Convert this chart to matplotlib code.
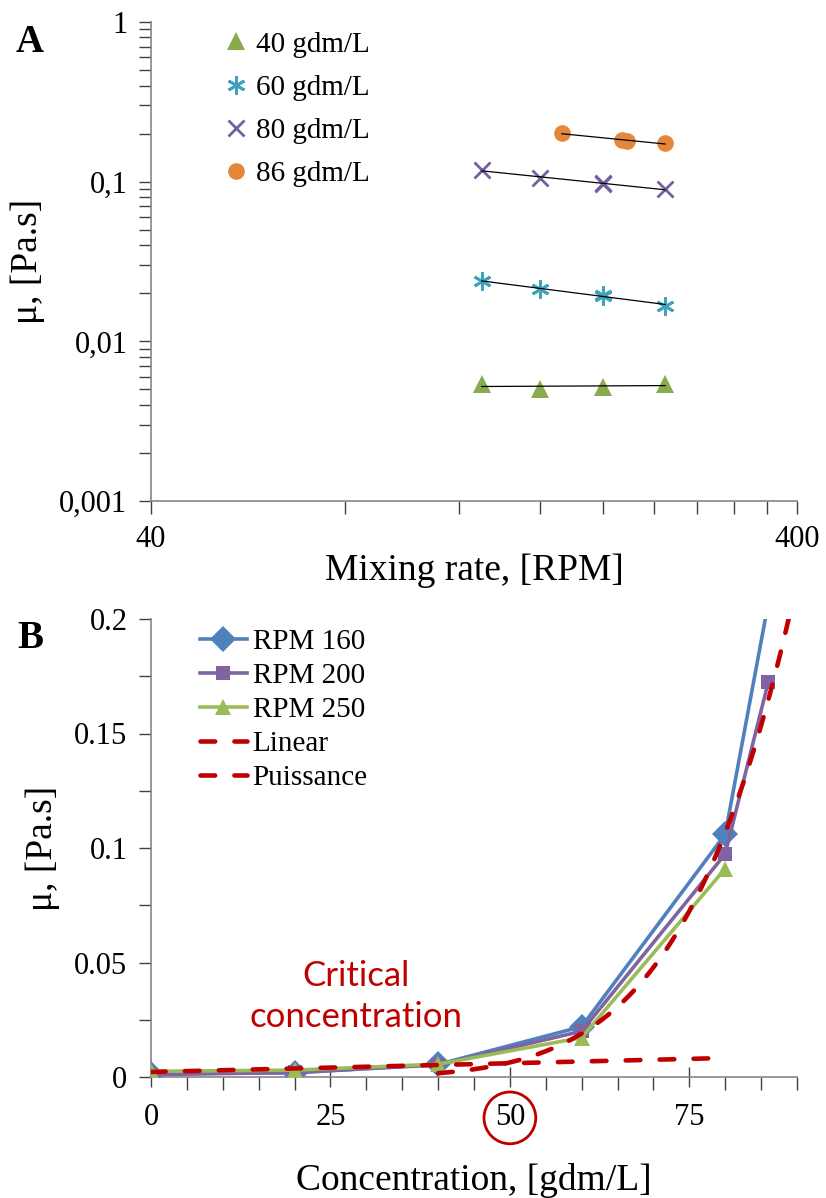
import numpy as np
import matplotlib
matplotlib.use('Agg')
import matplotlib.pyplot as plt
from matplotlib.ticker import FixedLocator, NullFormatter, FixedFormatter

# --- panel A : viscosity vs mixing rate (log-log) ---
rpm_40 = [130, 160, 200, 250]
mu_40 = [0.0054, 0.0050, 0.0052, 0.0054]
rpm_60 = [130, 160, 200, 200, 250]
mu_60 = [0.0237, 0.0214, 0.0192, 0.0196, 0.0167]
rpm_80 = [130, 160, 200, 200, 250]
mu_80 = [0.118, 0.106, 0.0965, 0.0985, 0.0895]
rpm_86 = [173, 214, 218, 250]
mu_86 = [0.201, 0.182, 0.180, 0.174]

# --- panel B : viscosity vs concentration ---
conc = [0, 20, 40, 60, 80, 86]
mu_rpm160 = [0.0015, 0.0018, 0.0055, 0.022, 0.106, 0.207]
mu_rpm200 = [0.0010, 0.0020, 0.0053, 0.020, 0.0974, 0.1725]
conc_250 = [0, 20, 40, 60, 80]
mu_rpm250 = [0.0025, 0.0030, 0.0056, 0.0172, 0.091]

# trend lines
lin_x = [0, 80]
lin_y = [0.0022, 0.0083]
pow_coef, pow_exp = 4.07e-13, 6.0   # y = a * x^b
pow_range = (40, 90)

GREEN = '#8AAA4E'
TEAL = '#3FA2BE'
PURPLE = '#7460A0'
ORANGE = '#E5873A'
BLUE = '#4F81BD'
PURPLE_B = '#8064A2'
GREEN_B = '#9BBB59'
RED = '#C00000'
GREY = '#868686'

serif = ['Liberation Serif', 'DejaVu Serif']
plt.rcParams['font.family'] = serif

fig = plt.figure(figsize=(8.26, 11.98), dpi=100)
W, H = 826, 1198
axA = fig.add_axes([151 / W, 1 - 501 / H, 646 / W, 479 / H])
axB = fig.add_axes([151 / W, 1 - 1077 / H, 646 / W, 458 / H])

for ax in (axA, axB):
    for s in ('top', 'right'):
        ax.spines[s].set_visible(False)
    for s in ('left', 'bottom'):
        ax.spines[s].set_color(GREY)
        ax.spines[s].set_linewidth(1.2)
    ax.tick_params(which='both', direction='out', color='#404040', width=1,
                   labelsize=22, pad=8)

# ---- A ----
axA.set_xscale('log')
axA.set_yscale('log')
series = [
    (rpm_40, mu_40, dict(marker='^', ms=13, color=GREEN, mew=0), '40 gdm/L'),
    (rpm_60, mu_60, dict(marker=(6, 2, 0), ms=13, color=TEAL, mew=2), '60 gdm/L'),
    (rpm_80, mu_80, dict(marker='x', ms=12, color=PURPLE, mew=2), '80 gdm/L'),
    (rpm_86, mu_86, dict(marker='o', ms=12, color=ORANGE, mew=0), '86 gdm/L'),
]
for x, y, st, lab in series:
    axA.plot(x, y, ls='none', label=lab, zorder=3, **st)
    b, a = np.polyfit(np.log10(x), np.log10(y), 1)
    xf = np.array([min(x), max(x)])
    axA.plot(xf, 10 ** (a + b * np.log10(xf)), color='black', lw=0.9, zorder=4)

axA.set_xlim(40, 400)
axA.set_ylim(0.001, 1)
axA.xaxis.set_major_locator(FixedLocator([40, 400]))
axA.xaxis.set_major_formatter(FixedFormatter(['40', '400']))
axA.xaxis.set_minor_locator(FixedLocator(list(range(80, 400, 40))))
axA.xaxis.set_minor_formatter(NullFormatter())
axA.yaxis.set_major_locator(FixedLocator([0.001, 0.01, 0.1, 1]))
axA.yaxis.set_major_formatter(FixedFormatter(['0,001', '0,01', '0,1', '1']))
axA.yaxis.set_minor_locator(FixedLocator([m * 10.0 ** e for e in (-3, -2, -1) for m in range(2, 10)]))
axA.yaxis.set_minor_formatter(NullFormatter())
axA.tick_params(which='both', length=9)
axA.set_xlabel('Mixing rate, [RPM]', fontsize=27, labelpad=0)
axA.set_ylabel('μ, [Pa.s]', fontsize=27, labelpad=10)
axA.legend(loc='upper left', bbox_to_anchor=(0.1, 1.005), frameon=False, fontsize=21,
           handlelength=0.6, handletextpad=0.4, labelspacing=0.57, borderaxespad=0)
fig.text(30 / W, 1 - 42 / H, 'A', fontsize=28, fontweight='bold', ha='center', va='center')

# ---- B ----
axB.plot(conc, mu_rpm160, color=BLUE, lw=2.6, marker='D', ms=13, mew=0, label='RPM 160', zorder=3)
axB.plot(conc, mu_rpm200, color=PURPLE_B, lw=2.6, marker='s', ms=10, mew=0, label='RPM 200', zorder=3)
axB.plot(conc_250, mu_rpm250, color=GREEN_B, lw=2.6, marker='^', ms=12, mew=0, label='RPM 250', zorder=3)
axB.plot(lin_x, lin_y, color=RED, lw=3.3, ls=(0, (3.2, 4.2)), dash_capstyle='round',
         label='Linear', zorder=4)
px = np.linspace(pow_range[0], pow_range[1], 200)
axB.plot(px, pow_coef * px ** pow_exp, color=RED, lw=3.3, ls=(0, (3.2, 4.2)),
         dash_capstyle='round', label='Puissance', zorder=4)

axB.set_xlim(0, 90)
axB.set_ylim(0, 0.2)
axB.set_xticks([0, 25, 50, 75])
axB.set_xticklabels(['0', '25', '50', '75'])
axB.xaxis.set_minor_locator(FixedLocator(list(range(5, 91, 5))))
axB.set_yticks([0, 0.05, 0.1, 0.15, 0.2])
axB.set_yticklabels(['0', '0.05', '0.1', '0.15', '0.2'])
axB.yaxis.set_minor_locator(FixedLocator([0.025, 0.075, 0.125, 0.175]))
axB.tick_params(which='both', length=9)
axB.tick_params(axis='x', which='major', direction='inout', length=14, pad=12)
axB.set_xlabel('Concentration, [gdm/L]', fontsize=27, labelpad=22)
axB.set_ylabel('μ, [Pa.s]', fontsize=27, labelpad=10)
for lbl in axB.get_xticklabels():
    if lbl.get_text() == '50':
        lbl.set_bbox(dict(boxstyle='circle,pad=0.35', fc='none', ec=RED, lw=2))
axB.legend(loc='upper left', bbox_to_anchor=(0.058, 1.004), frameon=False, fontsize=21,
           handlelength=1.6, handletextpad=0.2, labelspacing=0.26, borderaxespad=0)
axB.text(0.317, 0.175, 'Critical\nconcentration', transform=axB.transAxes, color=RED,
         fontsize=25, ha='center', va='center', family=['Lato', 'DejaVu Sans'],
         linespacing=1.35)
fig.text(30 / W, 1 - 639 / H, 'B', fontsize=28, fontweight='bold', ha='center', va='center')

fig.savefig('out.png', dpi=100)
